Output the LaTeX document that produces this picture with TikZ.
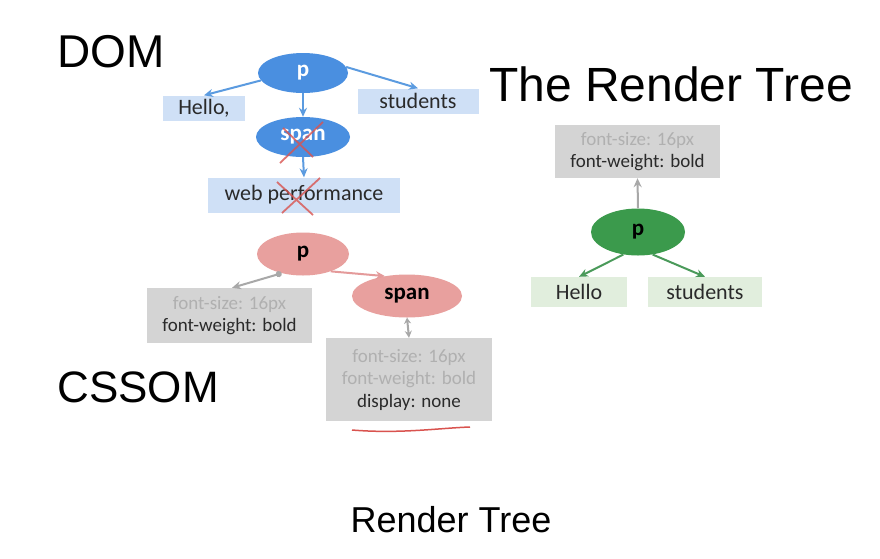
\documentclass[tikz,border=0pt]{standalone}
\usepackage{fontspec}
\setmainfont{Liberation Sans}
\newfontfamily\boxfont{Carlito}
\usetikzlibrary{shapes.geometric,arrows.meta}
\definecolor{domblue}{HTML}{4A8FE0}
\definecolor{domarrow}{HTML}{5B9BE0}
\definecolor{domleaf}{HTML}{CFE0F6}
\definecolor{csspink}{HTML}{E8A09E}
\definecolor{cssarrow}{HTML}{E49A9A}
\definecolor{rtgreen}{HTML}{3B9A4C}
\definecolor{rtleaf}{HTML}{E1EEDD}
\definecolor{rtarrow}{HTML}{4A9A5A}
\definecolor{propbox}{HTML}{D4D4D4}
\definecolor{proparrow}{HTML}{A8A8A8}
\definecolor{faint}{HTML}{B0B0B0}
\definecolor{dark}{HTML}{2A2A2A}
\definecolor{crossred}{HTML}{D9534F}
\tikzset{
  title/.style={inner sep=0pt, text=black},
  oval/.style={ellipse, inner sep=0pt, font=\boxfont\fontsize{23}{25}\selectfont\bfseries},
  leaf/.style={rectangle, inner sep=0pt, text=dark, font=\boxfont\fontsize{22}{24}\selectfont},
  prop/.style={rectangle, inner sep=0pt, fill=propbox, align=center, font=\boxfont\fontsize{19}{22.5}\selectfont},
  conn/.style={-{Stealth[length=9pt,width=8pt]}, line width=2pt},
}
\begin{document}
\begin{tikzpicture}[x=1pt,y=-1pt]
\useasboundingbox[fill=white] (0,0) rectangle (880,558);
% titles
\node[title, font=\fontsize{46}{50}\selectfont] (tdom) at (111,52) {DOM};
\node[title, font=\fontsize{48}{52}\selectfont] (trt) at (671,84) {The Render Tree};
\node[title, font=\fontsize{44}{48}\selectfont] (tcss) at (138,387) {CSSOM};
\node[title, font=\fontsize{36}{40}\selectfont] (trt2) at (451,520) {Render Tree};
% DOM
\node[oval, fill=domblue, text=white, minimum width=90pt, minimum height=40pt] (dp) at (303,73) {p};
\node[leaf, fill=domleaf, minimum width=82pt, minimum height=25pt] (dh) at (204,108) {Hello,};
\node[leaf, fill=domleaf, minimum width=121pt, minimum height=25pt] (ds) at (418,101) {students};
\node[oval, fill=domblue, text=white, minimum width=94pt, minimum height=40pt] (dsp) at (303,137) {span};
\node[leaf, fill=domleaf, minimum width=192pt, minimum height=35pt] (dw) at (304,195) {web performance};
\draw[conn, domarrow] (dp.190) -- (dh.north);
\draw[conn, domarrow] (dp.8) -- (ds.north);
\draw[conn, domarrow] (dp.south) -- (dsp.north);
\draw[conn, domarrow] (dsp.south) -- (dw.north);
% crosses
\draw[crossred, line width=1.8pt, opacity=0.8] (280,163) -- (323,122) (283,128) -- (313,157);
\draw[crossred, line width=1.8pt, opacity=0.8] (282,213) -- (320,178) (277,182) -- (313,215);
% CSSOM
\node[oval, fill=csspink, text=black, minimum width=92pt, minimum height=43pt] (cp) at (303,254) {p};
\node[oval, fill=csspink, text=black, minimum width=110pt, minimum height=43pt] (csp) at (407,296) {span};
\node[prop, minimum width=165pt, minimum height=55pt] (cb1) at (229.5,315.5)
  {\textcolor{faint}{font-size: 16px}\\\textcolor{dark}{font-weight: bold}};
\node[prop, minimum width=166pt, minimum height=83pt] (cb2) at (409,379.5)
  {\textcolor{faint}{font-size: 16px}\\\textcolor{faint}{font-weight: bold}\\\textcolor{dark}{display: none}};
\coordinate (cb1in) at ([xshift=2.5pt]cb1.north);
\draw[{Circle[length=6pt]}-{Stealth[length=9pt,width=8pt]}, line width=2pt, proparrow] (cp.222) -- (cb1in);
\draw[conn, cssarrow] (cp.-32) -- (csp.138);
\draw[{Stealth[length=6pt,width=7pt]}-{Stealth[length=7pt,width=7pt]}, line width=2pt, proparrow] (csp.south) -- (cb2.north);
\draw[crossred, line width=1.5pt] (352,430) .. controls (400,434) and (440,428) .. (470,427);
% Render tree
\node[prop, minimum width=165pt, minimum height=53pt] (rb) at (637.5,151.5)
  {\textcolor{faint}{font-size: 16px}\\\textcolor{dark}{font-weight: bold}};
\node[oval, fill=rtgreen, text=black, minimum width=94pt, minimum height=47pt] (rp) at (638,232) {p};
\node[leaf, fill=rtleaf, minimum width=96pt, minimum height=30pt] (rh) at (579,292) {Hello};
\node[leaf, fill=rtleaf, minimum width=114pt, minimum height=30pt] (rs) at (705,292) {students};
\draw[conn, proparrow] (rp.north) -- (rb.south);
\draw[conn, rtarrow] (rp.237) -- (rh.north);
\draw[conn, rtarrow] (rp.303) -- (rs.north);
\end{tikzpicture}
\end{document}
